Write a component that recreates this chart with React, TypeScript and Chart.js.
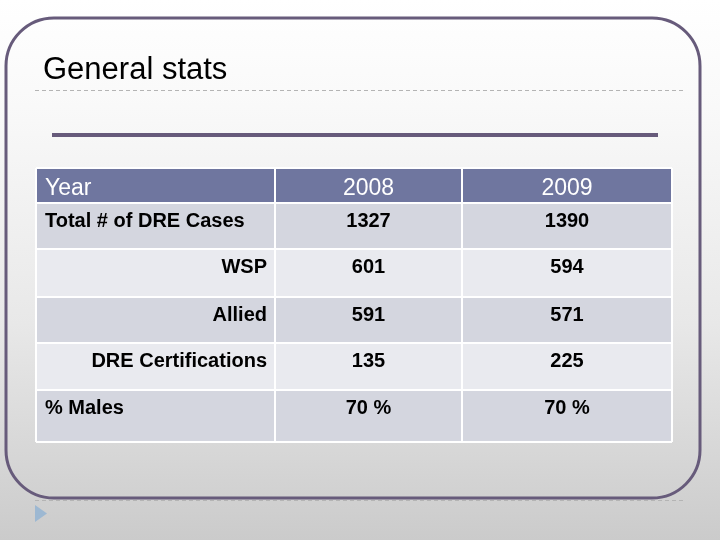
import React, { useEffect, useRef } from "react";
import { Chart, registerables } from "chart.js";

Chart.register(...registerables);

const title = "General stats";
const headerLabel = "Year";
const years = ["2008", "2009"];
const rowLabels = ["Total # of DRE Cases", "WSP", "Allied", "DRE Certifications", "% Males"];
const values2008 = ["1327", "601", "591", "135", "70 %"];
const values2009 = ["1390", "594", "571", "225", "70 %"];

// layout / style constants (not data)
const rowAlign: ("left" | "right")[] = ["left", "right", "right", "right", "left"];
const colEdges = [36, 275, 462, 672];
const rowEdges = [168, 203, 249, 297, 343, 390, 442];
const rowFills = ["#d4d6df", "#e9eaef", "#d4d6df", "#e9eaef", "#d4d6df"];
const FONT = '"Liberation Sans", Arial, sans-serif';
const FRAME = "#675b7b";

const slidePlugin = {
  id: "slide",
  beforeDraw(chart: any) {
    const { ctx } = chart;
    const sx = chart.scales.x;
    const sy = chart.scales.y;
    const X = (v: number) => sx.getPixelForValue(v);
    const Y = (v: number) => sy.getPixelForValue(v);
    ctx.save();
    // background gradient
    const g = ctx.createLinearGradient(0, Y(0), 0, Y(540));
    g.addColorStop(0, "#ffffff");
    g.addColorStop(0.2, "#f9f9f9");
    g.addColorStop(0.6, "#e8e8e8");
    g.addColorStop(1, "#cbcbcb");
    ctx.fillStyle = g;
    ctx.fillRect(X(0), Y(0), X(720) - X(0), Y(540) - Y(0));

    // dashed lines
    ctx.strokeStyle = "#b4b4b4";
    ctx.lineWidth = 1;
    ctx.setLineDash([4, 3]);
    ctx.beginPath();
    ctx.moveTo(X(35), Y(90) + 0.5);
    ctx.lineTo(X(685), Y(90) + 0.5);
    ctx.moveTo(X(35), Y(500) + 0.5);
    ctx.lineTo(X(685), Y(500) + 0.5);
    ctx.stroke();
    ctx.setLineDash([]);

    // frame
    ctx.strokeStyle = FRAME;
    ctx.lineWidth = 3;
    ctx.beginPath();
    const fx0 = X(6), fx1 = X(700), fy0 = Y(18), fy1 = Y(498), r = 48;
    ctx.moveTo(fx0 + r, fy0);
    ctx.lineTo(fx1 - r, fy0);
    ctx.arcTo(fx1, fy0, fx1, fy0 + r, r);
    ctx.lineTo(fx1, fy1 - r);
    ctx.arcTo(fx1, fy1, fx1 - r, fy1, r);
    ctx.lineTo(fx0 + r, fy1);
    ctx.arcTo(fx0, fy1, fx0, fy1 - r, r);
    ctx.lineTo(fx0, fy0 + r);
    ctx.arcTo(fx0, fy0, fx0 + r, fy0, r);
    ctx.closePath();
    ctx.stroke();

    // thick rule
    ctx.fillStyle = FRAME;
    ctx.fillRect(X(52), Y(133), X(658) - X(52), 4);

    // triangle bullet
    ctx.fillStyle = "#9db8d2";
    ctx.beginPath();
    ctx.moveTo(X(35), Y(505));
    ctx.lineTo(X(35), Y(522));
    ctx.lineTo(X(47), Y(513.5));
    ctx.closePath();
    ctx.fill();

    // title
    ctx.fillStyle = "#000000";
    ctx.font = `31px ${FONT}`;
    ctx.textAlign = "left";
    ctx.textBaseline = "alphabetic";
    ctx.fillText(title, X(43), Y(79));

    // table header
    ctx.fillStyle = "#6f769f";
    ctx.fillRect(X(colEdges[0]), Y(rowEdges[0]), X(colEdges[3]) - X(colEdges[0]), Y(rowEdges[1]) - Y(rowEdges[0]));
    // body rows
    for (let i = 0; i < rowLabels.length; i++) {
      ctx.fillStyle = rowFills[i];
      ctx.fillRect(X(colEdges[0]), Y(rowEdges[i + 1]), X(colEdges[3]) - X(colEdges[0]), Y(rowEdges[i + 2]) - Y(rowEdges[i + 1]));
    }
    // grid lines
    ctx.strokeStyle = "#ffffff";
    ctx.lineWidth = 2;
    ctx.beginPath();
    for (const e of rowEdges) {
      ctx.moveTo(X(colEdges[0]), Y(e));
      ctx.lineTo(X(colEdges[3]), Y(e));
    }
    for (const e of colEdges) {
      ctx.moveTo(X(e), Y(rowEdges[0]));
      ctx.lineTo(X(e), Y(rowEdges[rowEdges.length - 1]));
    }
    ctx.stroke();

    // header text
    ctx.fillStyle = "#ffffff";
    ctx.font = `23px ${FONT}`;
    ctx.textAlign = "left";
    ctx.fillText(headerLabel, X(45), Y(rowEdges[0] + 27));
    ctx.textAlign = "center";
    years.forEach((yr, j) => {
      const cx = (X(colEdges[j + 1]) + X(colEdges[j + 2])) / 2;
      ctx.fillText(yr, cx, Y(rowEdges[0] + 27));
    });

    // body text
    ctx.fillStyle = "#000000";
    ctx.font = `bold 20px ${FONT}`;
    const cols = [values2008, values2009];
    for (let i = 0; i < rowLabels.length; i++) {
      const by = Y(rowEdges[i + 1] + 24);
      if (rowAlign[i] === "left") {
        ctx.textAlign = "left";
        ctx.fillText(rowLabels[i], X(45), by);
      } else {
        ctx.textAlign = "right";
        ctx.fillText(rowLabels[i], X(267), by);
      }
      ctx.textAlign = "center";
      cols.forEach((vals, j) => {
        const cx = (X(colEdges[j + 1]) + X(colEdges[j + 2])) / 2;
        ctx.fillText(vals[i], cx, by);
      });
    }
    ctx.restore();
  },
};

export default function App() {
  const ref = useRef<HTMLCanvasElement>(null);
  useEffect(() => {
    if (!ref.current) return;
    const chart = new Chart(ref.current, {
      type: "scatter",
      data: { datasets: [{ data: [], showLine: false }] },
      options: {
        animation: false,
        responsive: false,
        devicePixelRatio: 1,
        layout: { padding: 0 },
        plugins: { legend: { display: false }, tooltip: { enabled: false }, title: { display: false } },
        scales: {
          x: { type: "linear", min: 0, max: 720, display: false },
          y: { type: "linear", min: 0, max: 540, reverse: true, display: false },
        },
      },
      plugins: [slidePlugin],
    });
    return () => chart.destroy();
  }, []);
  return (
    <div style={{ position: "fixed", left: 0, top: 0, width: 720, height: 540 }}>
      <canvas ref={ref} width={720} height={540} style={{ display: "block" }} />
    </div>
  );
}
